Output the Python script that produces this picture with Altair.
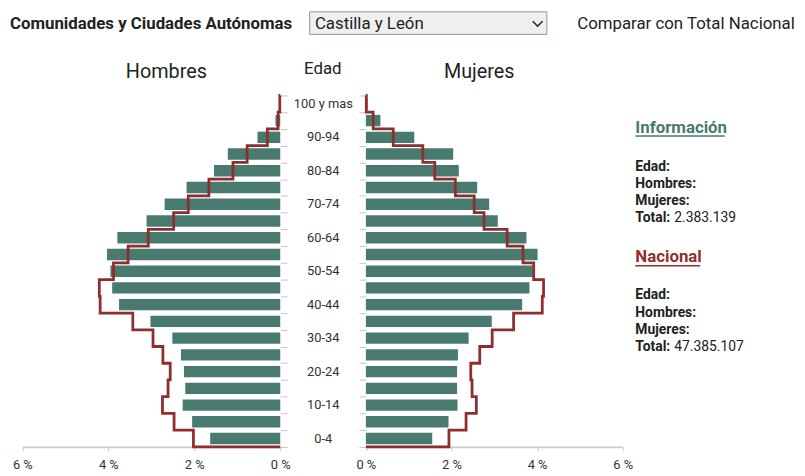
import altair as alt
import pandas as pd

# ---------------- data ----------------
edades = ["0-4", "5-9", "10-14", "15-19", "20-24", "25-29", "30-34", "35-39",
          "40-44", "45-49", "50-54", "55-59", "60-64", "65-69", "70-74",
          "75-79", "80-84", "85-89", "90-94", "95-99", "100 y mas"]

# Castilla y León, % of total population
hombres = [1.63, 2.05, 2.27, 2.21, 2.24, 2.31, 2.51, 3.02, 3.75, 3.91, 3.95,
           4.03, 3.79, 3.11, 2.69, 2.18, 1.54, 1.22, 0.53, 0.11, 0.02]
mujeres = [1.55, 1.93, 2.14, 2.13, 2.13, 2.15, 2.40, 2.94, 3.65, 3.82, 3.90,
           4.01, 3.75, 3.08, 2.88, 2.60, 2.17, 2.04, 1.13, 0.34, 0.04]

# Total Nacional, % of total population
hombres_nac = [2.02, 2.47, 2.74, 2.61, 2.56, 2.73, 2.96, 3.43, 4.19, 4.21, 3.88,
               3.54, 3.07, 2.48, 2.14, 1.66, 1.10, 0.77, 0.30, 0.05, 0.01]
mujeres_nac = [1.94, 2.34, 2.58, 2.48, 2.45, 2.66, 2.95, 3.45, 4.12, 4.15, 3.92,
               3.67, 3.30, 2.76, 2.53, 2.09, 1.61, 1.33, 0.64, 0.17, 0.01]

x_ticks = [0, 2, 4, 6]
region = "Castilla y León"
total_region = "2.383.139"
total_nacional = "47.385.107"

# ---------------- frames ----------------
n = len(edades)
bars = pd.DataFrame({"edad": edades, "idx": list(range(n)),
                     "h": hombres, "m": mujeres})
bars["y_lo"] = bars["idx"] + 0.16
bars["y_hi"] = bars["idx"] + 0.84
bars["y_mid"] = bars["idx"] + 0.5
labels_df = bars[bars["idx"] % 2 == 0]


def step_frame(vals):
    rows = [{"s": 0, "v": 0.0, "y": n}]
    s = 1
    for k in range(n - 1, -1, -1):
        rows.append({"s": s, "v": vals[k], "y": k + 1}); s += 1
        rows.append({"s": s, "v": vals[k], "y": k}); s += 1
    rows.append({"s": s, "v": 0.0, "y": 0})
    return pd.DataFrame(rows)


line_h = step_frame(hombres_nac)
line_m = step_frame(mujeres_nac)

# ---------------- style ----------------
W, H = 797, 441
TEAL = "#487a70"
RED = "#8e2f2f"
INK = "#222222"
FONT = "Roboto"

Y = alt.Scale(domain=[0, n], range=[441, 86], nice=False, zero=False)
XL = alt.Scale(domain=[0, 6], range=[275, 14.5], nice=False, zero=False)
XR = alt.Scale(domain=[0, 6], range=[361.5, 621], nice=False, zero=False)

x_axis = dict(values=x_ticks, labelExpr="datum.value + ' %'", orient="bottom",
              grid=False, domainColor="#cccccc", domainWidth=1.6,
              tickColor="#cccccc", tickSize=4, labelColor="#333333",
              labelFont=FONT, labelFontSize=13, labelPadding=8,
              labelFlush=False, title=None)
tick_axis = dict(values=list(range(n + 1)), labels=False, domain=False,
                 ticks=True, tickSize=7, tickColor="#c4c4c4", tickWidth=1,
                 grid=False, title=None)

left_bars = alt.Chart(bars).mark_rect(color=TEAL).encode(
    x=alt.X("h:Q", scale=XL, axis=alt.Axis(**x_axis)),
    x2=alt.datum(0),
    y=alt.Y("y_lo:Q", scale=Y, axis=alt.Axis(orient="right", offset=275 - W, **tick_axis)),
    y2="y_hi:Q",
)
right_bars = alt.Chart(bars).mark_rect(color=TEAL).encode(
    x=alt.X("m:Q", scale=XR, axis=alt.Axis(**x_axis)),
    x2=alt.datum(0),
    y=alt.Y("y_lo:Q", scale=Y, axis=alt.Axis(orient="left", offset=-361.5, **tick_axis)),
    y2="y_hi:Q",
)
left_line = alt.Chart(line_h).mark_line(color=RED, strokeWidth=2.8,
                                        strokeJoin="miter").encode(
    x=alt.X("v:Q", scale=XL, axis=None),
    y=alt.Y("y:Q", scale=Y, axis=None),
    order="s:Q",
)
right_line = alt.Chart(line_m).mark_line(color=RED, strokeWidth=2.8,
                                         strokeJoin="miter").encode(
    x=alt.X("v:Q", scale=XR, axis=None),
    y=alt.Y("y:Q", scale=Y, axis=None),
    order="s:Q",
)
age_labels = alt.Chart(labels_df).mark_text(font=FONT, fontSize=13, color="#333333",
                                            align="center", baseline="middle").encode(
    x=alt.value(318.5),
    y=alt.Y("y_mid:Q", scale=Y, axis=None),
    text="edad:N",
)


def txt(t, x, y, size=14, weight="normal", color=INK, align="left"):
    return alt.Chart(pd.DataFrame({"t": [t]})).mark_text(
        font=FONT, fontSize=size, fontWeight=weight, color=color,
        align=align, baseline="alphabetic").encode(
        x=alt.value(x), y=alt.value(y), text="t:N")


def rule(x1, x2, y, color, w=1.5):
    return alt.Chart(pd.DataFrame({"a": [0]})).mark_rule(color=color, strokeWidth=w).encode(
        x=alt.value(x1), x2=alt.value(x2), y=alt.value(y))


dropdown = alt.Chart(pd.DataFrame({"a": [0]})).mark_rect(
    fill="#efefef", stroke="#86a094", strokeWidth=1).encode(
    x=alt.value(304.7), x2=alt.value(544.3), y=alt.value(1.5), y2=alt.value(24.3))
chevron = alt.Chart(pd.DataFrame({"a": [0]})).mark_point(
    shape="M-1,-0.5L0,0.5L1,-0.5", filled=False, size=100, strokeWidth=1.5,
    color=INK, opacity=1).encode(x=alt.value(535), y=alt.value(13.5))

layers = [
    left_bars, right_bars, left_line, right_line, age_labels,
    txt("Comunidades y Ciudades Autónomas", 2, 19, 17, "bold"),
    dropdown, chevron,
    txt(region, 310, 19, 17),
    txt("Comparar con Total Nacional", 575, 19, 17),
    txt("Hombres", 160, 68, 20, align="center"),
    txt("Edad", 318, 64.7, 17, align="center"),
    txt("Mujeres", 476, 68, 20, align="center"),
    txt("Información", 633.7, 123.7, 17, "bold", TEAL),
    rule(633.7, 724, 127, TEAL),
    txt("Edad:", 633.7, 162, 14, "bold"),
    txt("Hombres:", 633.7, 179.3, 14, "bold"),
    txt("Mujeres:", 633.7, 197, 14, "bold"),
    txt("Total:", 633.7, 213.7, 14, "bold"),
    txt(total_region, 673, 213.7, 14),
    txt("Nacional", 633.7, 254.7, 17, "bold", RED),
    rule(633.7, 699.3, 258, RED),
    txt("Edad:", 633.7, 292, 14, "bold"),
    txt("Hombres:", 633.7, 309.3, 14, "bold"),
    txt("Mujeres:", 633.7, 326.7, 14, "bold"),
    txt("Total:", 633.7, 343.7, 14, "bold"),
    txt(total_nacional, 673, 343.7, 14),
]

chart = alt.layer(*layers).resolve_scale(
    x="independent", y="independent"
).resolve_axis(
    x="independent", y="independent"
).properties(
    width=W, height=H,
    autosize=alt.AutoSizeParams(type="none"),
    padding={"left": 0, "top": 0, "right": 0, "bottom": 26},
).configure(
    font=FONT, view=alt.ViewConfig(stroke=None)
)

chart.save("out.html", embed_options={"renderer": "svg", "actions": False})
